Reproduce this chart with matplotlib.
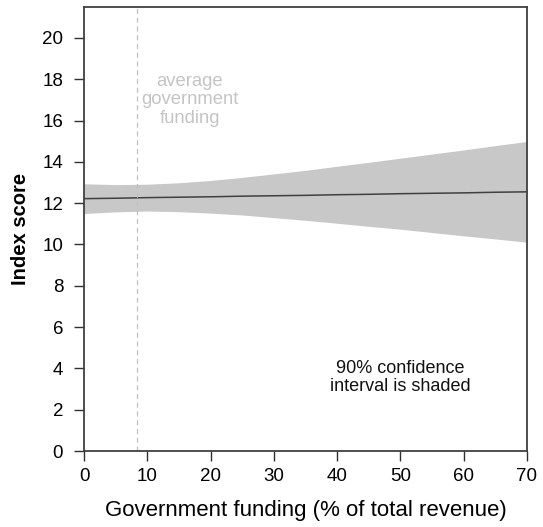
import matplotlib
matplotlib.use("Agg")
import matplotlib.pyplot as plt

plt.rcParams["font.family"] = ["Liberation Sans", "DejaVu Sans"]

# values
funding = [0, 5, 10, 15, 20, 25, 30, 35, 40, 45, 50, 55, 60, 65, 70]
fit = [12.22, 12.24, 12.27, 12.29, 12.31, 12.34, 12.36, 12.38, 12.41,
       12.43, 12.46, 12.48, 12.50, 12.53, 12.55]
upper = [12.94, 12.90, 12.92, 12.99, 13.10, 13.25, 13.42, 13.59, 13.79,
         13.98, 14.18, 14.38, 14.58, 14.79, 14.99]
lower = [11.50, 11.58, 11.62, 11.59, 11.52, 11.43, 11.30, 11.17, 11.03,
         10.88, 10.74, 10.58, 10.42, 10.27, 10.11]
avg_funding = 8.3

xticks = [0, 10, 20, 30, 40, 50, 60, 70]
yticks = [0, 2, 4, 6, 8, 10, 12, 14, 16, 18, 20]

fig = plt.figure(figsize=(5.43, 5.27), dpi=100)
ax = fig.add_axes([0.1547, 0.1442, 0.8158, 0.8425])

ax.fill_between(funding, lower, upper, color="#c8c8c8", linewidth=0)
ax.plot(funding, fit, color="#404040", linewidth=1.1)
ax.axvline(avg_funding, color="#c0c0c0", linestyle=(0, (4, 3)), linewidth=0.9)

ax.text(16.7, 17.0, "average\ngovernment\nfunding", color="#c4c4c4",
        fontsize=13.3, ha="center", va="center", linespacing=1.12)
ax.text(50, 3.55, "90% confidence\ninterval is shaded", color="#111111",
        fontsize=13, ha="center", va="center", linespacing=1.08)

ax.set_xlim(0, 70)
ax.set_ylim(0, 21.5)
ax.set_xticks(xticks)
ax.set_yticks(yticks)
ax.tick_params(direction="out", length=7, width=1, color="#303030",
               labelsize=13.5)
ax.tick_params(axis="x", pad=5)
ax.tick_params(axis="y", pad=8)
for s in ax.spines.values():
    s.set_color("#404040")
    s.set_linewidth(1.3)

ax.set_xlabel("Government funding (% of total revenue)", fontsize=16, labelpad=11)
ax.set_ylabel("Index score", fontsize=14.5, fontweight="bold", labelpad=9)

fig.savefig("out.png", dpi=100)
